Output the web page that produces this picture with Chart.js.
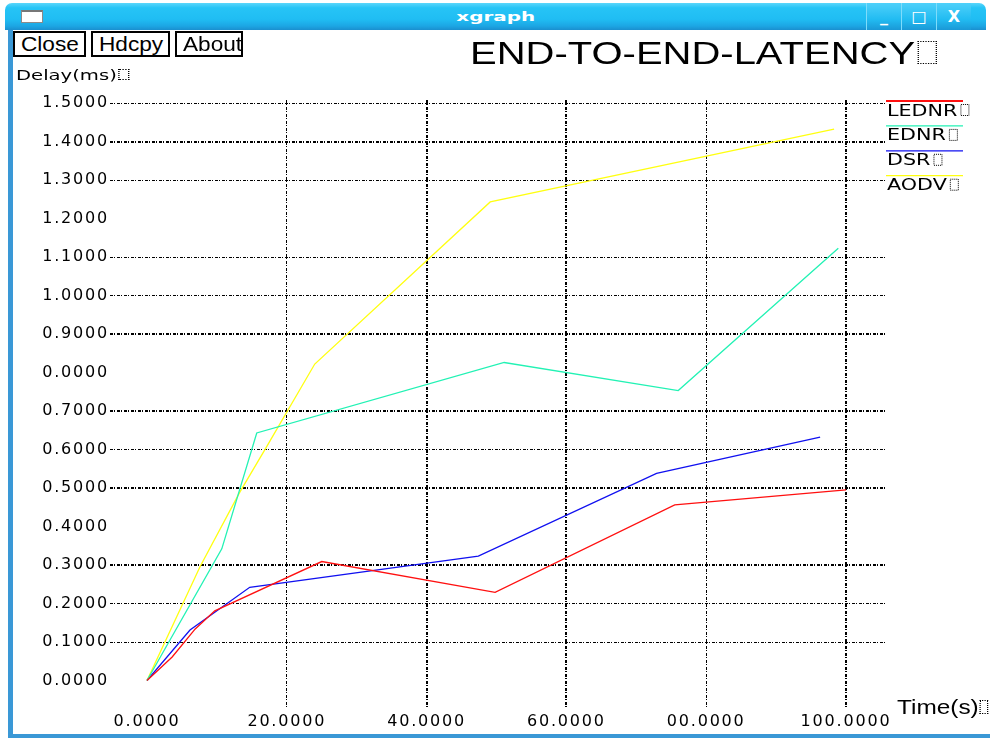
<!DOCTYPE html>
<html>
<head>
<meta charset="utf-8">
<script src="https://cdn.jsdelivr.net/npm/chart.js@4.4.1/dist/chart.umd.min.js"></script>
<style>
html,body{margin:0;padding:0;background:#fff;}
#win{position:relative;width:990px;height:738px;overflow:hidden;background:#fff;}
#chart{position:absolute;left:0;top:0;z-index:1;}
.abs{position:absolute;white-space:nowrap;z-index:2;}
.titlebar{position:absolute;left:5px;top:3px;width:981px;height:27px;border-radius:7px 7px 0 0;
  background:linear-gradient(#5ad6fb 0%,#26c4f6 18%,#20bdf3 60%,#1ca6e4 85%,#1a8fcf 100%);z-index:2;}
.icon{position:absolute;left:16px;top:7px;width:20px;height:10px;background:#fff;border:1px solid #8a8a8a;border-top:2px solid #777;}
.tb-title{position:absolute;left:0;top:7px;width:100%;text-align:center;color:#fff;font:bold 13px "DejaVu Sans";line-height:13px;}
.tb-title span{display:inline-block;transform:scaleX(1.53);}
.wbtn{position:absolute;top:0;width:34px;height:27px;border-left:1px solid #7fdcfb;background:linear-gradient(#4fd0fa,#22bcf2 60%,#1a98d6);color:#fff;font:bold 16px "DejaVu Sans";text-align:center;line-height:27px;}
.lborder{position:absolute;left:8px;top:30px;width:5px;height:708px;background:#3a98d6;z-index:2;}
.bborder{position:absolute;left:8px;top:734px;width:982px;height:4px;background:#3a98d6;z-index:2;}
.btn{position:absolute;top:31px;height:22px;border:2px solid #000;background:#fff;z-index:2;}
.btn span{position:absolute;left:6px;top:2px;font:19.5px "Liberation Sans";line-height:19.5px;transform:scaleX(1.16);transform-origin:0 0;}
.box{display:inline-block;border:1px dotted #000;vertical-align:baseline;}
</style>
</head>
<body>
<div id="win">
  <canvas id="chart" width="990" height="738"></canvas>
  <div class="titlebar">
    <div class="icon"></div>
    <div class="tb-title"><span>xgraph</span></div>
    <div class="wbtn" style="left:861px;">_</div>
    <div class="wbtn" style="left:896px;">&#9633;</div>
    <div class="wbtn" style="left:931px;">X</div>
  </div>
  <div class="lborder"></div>
  <div class="bborder"></div>
  <div class="btn" style="left:13px;width:69px;"><span>Close</span></div>
  <div class="btn" style="left:91px;width:75px;"><span>Hdcpy</span></div>
  <div class="btn" style="left:175px;width:64px;"><span>About</span></div>
  <div class="abs" style="left:470px;top:37.8px;font:31px 'Liberation Sans';line-height:31px;transform:scaleX(1.29);transform-origin:0 0;">END-TO-END-LATENCY<span class="box" style="width:13px;height:21px;margin-left:2px;"></span></div>
  <div class="abs" style="left:16px;top:68px;font:14px 'DejaVu Sans';line-height:14px;transform:scaleX(1.4);transform-origin:0 0;">Delay(ms)<span class="box" style="width:6px;height:9px;margin-left:1px;"></span></div>
  <div class="abs" style="left:897px;top:697.5px;font:19.5px 'Liberation Sans';line-height:19.5px;transform:scaleX(1.25);transform-origin:0 0;">Time(s)<span class="box" style="width:5px;height:12px;margin-left:1px;"></span></div>
</div>
<script>
// ---- data ----
const seriesNames = ['LEDNR', 'EDNR', 'DSR', 'AODV'];
const seriesColors = ['#ff1010', '#22f2b4', '#1010f0', '#ffff10'];

const lednrTime  = [0, 3.6, 6.9, 9.7, 25.0, 49.8, 75.5, 100.0];
const lednrDelay = [0, 0.061, 0.134, 0.181, 0.309, 0.229, 0.456, 0.495];

const ednrTime  = [0, 10.7, 15.7, 51.1, 76.0, 98.9];
const ednrDelay = [0, 0.342, 0.643, 0.826, 0.753, 1.123];

const dsrTime  = [0, 6.15, 14.7, 47.4, 72.9, 96.3];
const dsrDelay = [0, 0.131, 0.242, 0.323, 0.538, 0.632];

const aodvTime  = [0, 7.6, 13.3, 17.1, 24.0, 49.1, 98.3];
const aodvDelay = [0, 0.296, 0.490, 0.607, 0.822, 1.243, 1.432];

const timeTicks = [0, 20, 40, 60, 80, 100];
const timeTickLabels = ['0.0000', '20.0000', '40.0000', '60.0000', '00.0000', '100.0000'];
const delayTicks = [0, 0.1, 0.2, 0.3, 0.4, 0.5, 0.6, 0.7, 0.8, 0.9, 1.0, 1.1, 1.2, 1.3, 1.4, 1.5];
const delayTickLabels = ['0.0000', '0.1000', '0.2000', '0.3000', '0.4000', '0.5000', '0.6000', '0.7000',
  '0.0000', '0.9000', '1.0000', '1.1000', '1.2000', '1.3000', '1.4000', '1.5000'];

// ---- styling ----
const xGridWidths = [0, 1, 2, 2, 1, 2];
const yGridWidths = [0, 1, 1, 2, 0, 2, 1, 2, 0, 2, 1, 1, 0, 1, 2, 1];
const gridDash = [3, 1, 1, 2];

function pts(t, v) { return t.map((x, i) => ({ x: x, y: v[i] })); }
const seriesData = [pts(lednrTime, lednrDelay), pts(ednrTime, ednrDelay), pts(dsrTime, dsrDelay), pts(aodvTime, aodvDelay)];

const spacingPlugin = {
  id: 'spacing',
  beforeDraw(chart) { chart.ctx.letterSpacing = '1.8px'; },
  afterDraw(chart) { chart.ctx.letterSpacing = '0px'; }
};

const legendPlugin = {
  id: 'xglegend',
  afterDraw(chart) {
    const ctx = chart.ctx;
    ctx.save();
    ctx.letterSpacing = '0px';
    chart.data.datasets.forEach((ds, i) => {
      const y = 101 + i * 24.9;
      ctx.setLineDash([]);
      ctx.strokeStyle = ds.borderColor;
      ctx.lineWidth = i === 0 ? 2 : 1.3;
      ctx.beginPath(); ctx.moveTo(886, y); ctx.lineTo(963, y); ctx.stroke();
      ctx.save();
      ctx.translate(887, y + 14.5);
      ctx.scale(1.38, 1);
      ctx.font = '15px "DejaVu Sans"';
      ctx.fillStyle = '#000';
      ctx.textBaseline = 'alphabetic';
      ctx.fillText(ds.label, 0, 0);
      const w = ctx.measureText(ds.label).width * 1.38;
      ctx.restore();
      ctx.setLineDash([1, 1]);
      ctx.strokeStyle = '#000';
      ctx.lineWidth = 1;
      ctx.strokeRect(887 + w + 3.5, y + 3.5, 8, 11);
    });
    ctx.restore();
  }
};

new Chart(document.getElementById('chart'), {
  type: 'line',
  data: {
    datasets: seriesNames.map((n, i) => ({
      label: n,
      data: seriesData[i],
      borderColor: seriesColors[i],
      backgroundColor: seriesColors[i],
      borderWidth: 1.3,
      pointRadius: 0,
      tension: 0,
      fill: false
    }))
  },
  options: {
    responsive: false,
    animation: false,
    devicePixelRatio: 1,
    layout: { padding: { left: 20, top: 100, right: 105, bottom: 10 } },
    plugins: { legend: { display: false }, tooltip: { enabled: false }, title: { display: false } },
    scales: {
      x: {
        type: 'linear',
        min: -5.293,
        max: 105.58,
        afterBuildTicks: s => { s.ticks = timeTicks.map(v => ({ value: v })); },
        afterFit: s => { s.height = 20; },
        ticks: {
          autoSkip: false, maxRotation: 0, minRotation: 0, padding: 4, color: '#000',
          font: { family: 'DejaVu Sans', size: 16 },
          callback: (v, i) => timeTickLabels[i]
        },
        grid: { color: '#000', lineWidth: c => xGridWidths[c.index] || 0, drawTicks: false },
        border: { display: false, dash: gridDash }
      },
      y: {
        type: 'linear',
        min: -0.0714,
        max: 1.5078,
        afterBuildTicks: s => { s.ticks = delayTicks.map(v => ({ value: v })); },
        afterFit: s => { s.width = 90; },
        ticks: {
          autoSkip: false, padding: 1, color: '#000',
          font: { family: 'DejaVu Sans', size: 16 },
          callback: (v, i) => delayTickLabels[i]
        },
        grid: { color: '#000', lineWidth: c => yGridWidths[c.index] || 0, drawTicks: false },
        border: { display: false, dash: gridDash }
      }
    }
  },
  plugins: [spacingPlugin, legendPlugin]
});
</script>
</body>
</html>
